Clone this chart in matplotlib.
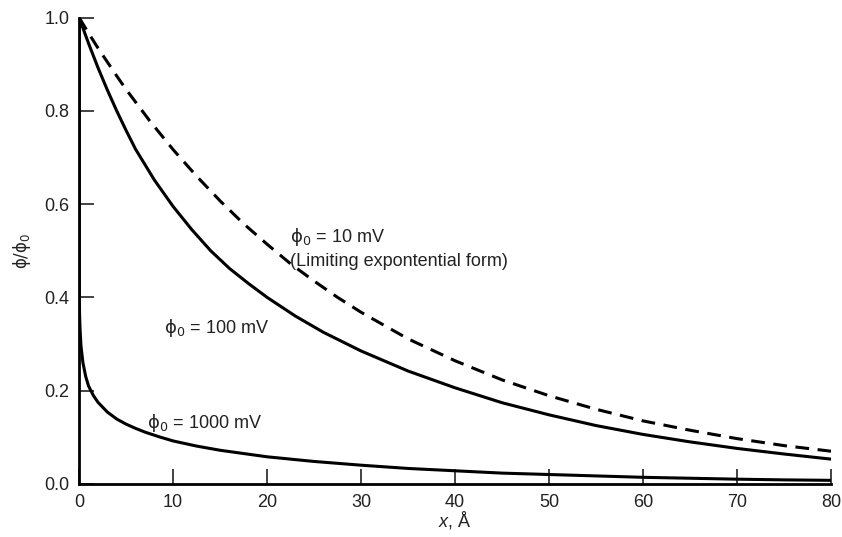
import numpy as np
import matplotlib
matplotlib.use("Agg")
import matplotlib.pyplot as plt

plt.rcParams['font.family'] = ['Liberation Sans', 'DejaVu Sans']
plt.rcParams['mathtext.fontset'] = 'custom'
plt.rcParams['mathtext.rm'] = 'DejaVu Sans'
plt.rcParams['mathtext.it'] = 'Liberation Sans:italic'

# phi0 = 10 mV (limiting exponential form), dashed
x_10 = [0, 1, 2, 3, 4, 5, 7.5, 10, 12.5, 15, 17.5, 20, 22.5, 25, 27.5, 30, 35,
        40, 45, 50, 55, 60, 65, 70, 75, 80]
y_10 = [1.0, 0.967, 0.935, 0.905, 0.875, 0.846, 0.779, 0.717, 0.66, 0.607,
        0.558, 0.514, 0.472, 0.435, 0.40, 0.368, 0.311, 0.264, 0.223, 0.189,
        0.16, 0.135, 0.115, 0.097, 0.082, 0.07]

# phi0 = 100 mV
x_100 = [0, 1, 2, 3, 4, 5, 6, 8, 10, 12, 14, 16, 18, 20, 23, 26, 30, 35, 40,
         45, 50, 55, 60, 65, 70, 75, 80]
y_100 = [1.0, 0.945, 0.893, 0.845, 0.80, 0.758, 0.718, 0.652, 0.595, 0.545,
         0.50, 0.462, 0.43, 0.40, 0.36, 0.325, 0.285, 0.242, 0.206, 0.174,
         0.148, 0.125, 0.106, 0.09, 0.076, 0.064, 0.053]

# phi0 = 1000 mV
x_1000 = [0, 0.02, 0.05, 0.1, 0.2, 0.4, 0.7, 1, 1.5, 2, 3, 4, 5, 6, 7, 8.5, 10,
          12.5, 15, 17.5, 20, 25, 30, 35, 40, 45, 50, 55, 60, 65, 70, 75, 80]
y_1000 = [1.0, 0.40, 0.36, 0.33, 0.295, 0.26, 0.23, 0.21, 0.19, 0.175, 0.154,
          0.139, 0.128, 0.119, 0.111, 0.101, 0.092, 0.081, 0.072, 0.065, 0.058,
          0.048, 0.04, 0.033, 0.028, 0.023, 0.02, 0.017, 0.014, 0.012, 0.01,
          0.0085, 0.0075]

fig = plt.figure(figsize=(8.42, 5.37), dpi=100)
ax = fig.add_axes([0.094, 0.099, 0.893, 0.868])

ax.plot(x_10, y_10, color='black', lw=2.2, ls=(0, (4.5, 2.8)))
ax.plot(x_100, y_100, color='black', lw=2.2)
ax.plot(x_1000, y_1000, color='black', lw=2.2)

ax.set_xlim(0, 80)
ax.set_ylim(0, 1.0)
ax.set_xticks(range(0, 81, 10))
ax.set_yticks([0.0, 0.2, 0.4, 0.6, 0.8, 1.0])
ax.set_yticklabels(['0.0', '0.2', '0.4', '0.6', '0.8', '1.0'])

for s in ['top', 'right']:
    ax.spines[s].set_visible(False)
for s in ['left', 'bottom']:
    ax.spines[s].set_linewidth(2.0)

ax.tick_params(direction='in', length=11, width=1.2, labelsize=13,
               colors='#222222', pad=7)

ax.set_xlabel(r'$x$, Å', fontsize=13, color='#222222')
ax.xaxis.set_label_coords(0.5, -0.055)
ax.set_ylabel(r'$\mathrm{\phi/\phi_0}$', fontsize=12, color='#222222')
ax.yaxis.set_label_coords(-0.062, 0.5)

fs = 13
ax.text(22.4, 0.53, r'$\mathrm{\phi_0}$ = 10 mV', fontsize=fs,
        va='center', color='#222222')
ax.text(22.4, 0.478, '(Limiting expontential form)', fontsize=fs,
        va='center', color='#222222')
ax.text(9.0, 0.335, r'$\mathrm{\phi_0}$ = 100 mV', fontsize=fs,
        va='center', color='#222222')
ax.text(7.2, 0.13, r'$\mathrm{\phi_0}$ = 1000 mV', fontsize=fs,
        va='center', color='#222222')

fig.savefig('out.png', dpi=100)
